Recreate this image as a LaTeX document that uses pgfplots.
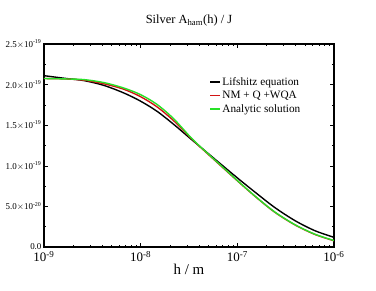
\documentclass[border=0pt]{standalone}
\usepackage{fontspec}
\setmainfont{Liberation Serif}
\usepackage{pgfplots}
\pgfplotsset{compat=1.18}
\definecolor{myred}{RGB}{210,20,20}
\definecolor{mygreen}{RGB}{40,225,40}
\begin{document}
\begin{tikzpicture}
\useasboundingbox (-44bp,-44bp) rectangle (332bp,247bp);
\begin{axis}[
  at={(0,0)}, anchor=south west,
  scale only axis, width=290bp, height=203bp,
  xmode=log, xmin=1e-9, xmax=1e-6,
  ymin=0, ymax=2.5,
  axis line style={line width=1.1pt},
  tick style={black, line width=0.5pt},
  major tick length=4bp, minor tick length=2.2bp,
  tick align=inside,
  xtick={1e-9,1e-8,1e-7,1e-6},
  xticklabels={10\textsuperscript{-9},10\textsuperscript{-8},10\textsuperscript{-7},10\textsuperscript{-6}},
  ytick={0,0.5,1,1.5,2,2.5},
  yticklabels={0.0,5.0$\times$10\textsuperscript{-20},1.0$\times$10\textsuperscript{-19},1.5$\times$10\textsuperscript{-19},2.0$\times$10\textsuperscript{-19},2.5$\times$10\textsuperscript{-19}},
  minor ytick={0.25,0.75,1.25,1.75,2.25},
  x tick label style={font=\fontsize{13}{13}\selectfont, yshift=-1bp},
  y tick label style={font=\fontsize{9}{9}\selectfont, xshift=1bp},
  /pgf/number format/assume math mode=true,
  title={Silver A\textsubscript{ham}(h) / J},
  title style={font=\fontsize{12.5}{13}\selectfont, yshift=8bp},
  xlabel={h / m},
  xlabel style={font=\fontsize{15}{15}\selectfont, yshift=5bp},
  legend style={draw=none, fill=none, at={(0.56,0.855)}, anchor=north west,
    font=\fontsize{11.3}{12}\selectfont, row sep=1.5bp,
    nodes={inner sep=1.5bp}},
  legend cell align=left,
  legend image code/.code={\draw[#1, line width=1.4pt] (0bp,0bp) -- (10bp,0bp);},
]
\addplot[black, line width=1.4pt, smooth] coordinates {
(1e-9,2.11) (1.622e-9,2.078) (2.570e-9,2.05) (4.169e-9,1.99) (6.607e-9,1.90)
(9.840e-9,1.80) (1.462e-8,1.675) (2.173e-8,1.515) (3.236e-8,1.34) (4.102e-8,1.237)
(6.607e-8,1.03) (1.064e-7,0.825) (1.622e-7,0.65) (2.449e-7,0.485) (3.945e-7,0.325)
(6.339e-7,0.201) (1e-6,0.119)};
\addlegendentry{Lifshitz equation}
\addplot[myred, line width=1.4pt, smooth] coordinates {
(1e-9,2.075) (1.622e-9,2.07) (2.570e-9,2.055) (4.169e-9,2.01) (6.607e-9,1.945)
(9.840e-9,1.855) (1.462e-8,1.73) (2.173e-8,1.56) (3.236e-8,1.355) (4.102e-8,1.235)
(6.607e-8,1.01) (1.064e-7,0.787) (1.622e-7,0.597) (2.449e-7,0.427) (3.945e-7,0.272)
(6.339e-7,0.155) (1e-6,0.077)};
\addlegendentry{NM + Q +WQA}
\addplot[mygreen, line width=1.4pt, smooth] coordinates {
(1e-9,2.075) (1.622e-9,2.07) (2.570e-9,2.062) (4.169e-9,2.025) (6.607e-9,1.96)
(9.840e-9,1.88) (1.462e-8,1.76) (2.173e-8,1.585) (3.236e-8,1.36) (4.102e-8,1.24)
(6.607e-8,1.015) (1.064e-7,0.79) (1.622e-7,0.60) (2.449e-7,0.43) (3.945e-7,0.275)
(6.339e-7,0.158) (1e-6,0.08)};
\addlegendentry{Analytic solution}
\end{axis}
\end{tikzpicture}
\end{document}
